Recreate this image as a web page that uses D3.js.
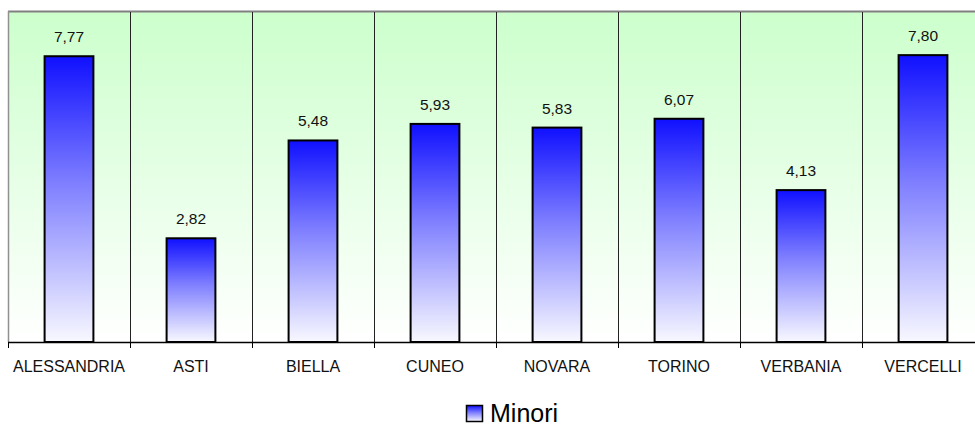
<!DOCTYPE html>
<html>
<head>
<meta charset="utf-8">
<script src="https://cdn.jsdelivr.net/npm/d3@7"></script>
<style>
  html, body { margin: 0; padding: 0; background: #fff; }
  svg { display: block; font-family: "Liberation Sans", Arial, sans-serif; }
</style>
</head>
<body>
<div id="chart"></div>
<script>
// Data
const provinces = ["ALESSANDRIA", "ASTI", "BIELLA", "CUNEO", "NOVARA", "TORINO", "VERBANIA", "VERCELLI"];
const minori = [7.77, 2.82, 5.48, 5.93, 5.83, 6.07, 4.13, 7.80];
const seriesName = "Minori";
const yDomain = [0, 9];

const W = 975, H = 428;
const plot = { left: 8, top: 11, right: 984, bottom: 342 };

const svg = d3.select("#chart").append("svg")
    .attr("width", W)
    .attr("height", H);

const defs = svg.append("defs");

// Plot background: light green fading to white
const bg = defs.append("linearGradient")
    .attr("id", "bgGrad")
    .attr("x1", 0).attr("y1", 0).attr("x2", 0).attr("y2", 1);
bg.append("stop").attr("offset", "0%").attr("stop-color", "#ccffcc");
bg.append("stop").attr("offset", "100%").attr("stop-color", "#ffffff");

// Bar fill: blue at top to near white at bottom
const barGrad = defs.append("linearGradient")
    .attr("id", "barGrad")
    .attr("x1", 0).attr("y1", 0).attr("x2", 0).attr("y2", 1);
barGrad.append("stop").attr("offset", "0%").attr("stop-color", "#1010ff");
barGrad.append("stop").attr("offset", "45%").attr("stop-color", "#8080ff");
barGrad.append("stop").attr("offset", "100%").attr("stop-color", "#f8f8ff");

// Scales
const x = d3.scaleBand()
    .domain(provinces)
    .range([plot.left, plot.right])
    .paddingInner(0)
    .paddingOuter(0);

const y = d3.scaleLinear()
    .domain(yDomain)
    .range([plot.bottom, plot.top]);

// Background
svg.append("rect")
    .attr("x", plot.left)
    .attr("y", plot.top)
    .attr("width", plot.right - plot.left)
    .attr("height", plot.bottom - plot.top)
    .attr("fill", "url(#bgGrad)");

// Top and left borders
svg.append("line")
    .attr("x1", plot.left).attr("x2", plot.right)
    .attr("y1", plot.top + 0.5).attr("y2", plot.top + 0.5)
    .attr("stroke", "#808080").attr("stroke-width", 2);
svg.append("line")
    .attr("x1", plot.left + 0.5).attr("x2", plot.left + 0.5)
    .attr("y1", plot.top).attr("y2", plot.bottom)
    .attr("stroke", "#909090").attr("stroke-width", 1.5);

// Category separators
const seps = provinces.slice(1).map(p => x(p));
svg.append("g")
    .selectAll("line")
    .data(seps)
    .join("line")
    .attr("x1", d => Math.round(d) + 0.5)
    .attr("x2", d => Math.round(d) + 0.5)
    .attr("y1", plot.top + 1)
    .attr("y2", plot.bottom)
    .attr("stroke", "#222")
    .attr("stroke-width", 1);

// Bars
const barW = x.bandwidth() * 0.4;
svg.append("g")
    .selectAll("rect")
    .data(minori)
    .join("rect")
    .attr("x", (d, i) => x(provinces[i]) + (x.bandwidth() - barW) / 2)
    .attr("y", d => y(d))
    .attr("width", barW)
    .attr("height", d => y(0) - y(d))
    .attr("fill", "url(#barGrad)")
    .attr("stroke", "#000")
    .attr("stroke-width", 2);

// Value labels
svg.append("g")
    .selectAll("text")
    .data(minori)
    .join("text")
    .attr("x", (d, i) => x(provinces[i]) + x.bandwidth() / 2)
    .attr("y", d => y(d) - 14)
    .attr("text-anchor", "middle")
    .attr("font-size", "15.5px")
    .attr("fill", "#111")
    .text(d => d.toFixed(2).replace(".", ","));

// X axis
const xAxis = d3.axisBottom(x).tickSize(0).tickPadding(19);
const gx = svg.append("g")
    .attr("transform", `translate(0,${plot.bottom})`)
    .call(xAxis);
gx.select(".domain")
    .attr("d", `M${plot.left},0.5H${plot.right}`)
    .attr("stroke", "#000")
    .attr("stroke-width", 1.5);
gx.selectAll(".tick text")
    .attr("font-size", "16px")
    .attr("font-family", "Liberation Sans, Arial, sans-serif")
    .attr("fill", "#111");

// Tick marks at category boundaries
gx.append("g")
    .selectAll("line")
    .data([plot.left].concat(seps))
    .join("line")
    .attr("x1", d => Math.round(d) + 0.5)
    .attr("x2", d => Math.round(d) + 0.5)
    .attr("y1", 0)
    .attr("y2", 6)
    .attr("stroke", "#000");

// Legend
const legend = svg.append("g")
    .attr("transform", "translate(466,405)");
legend.append("rect")
    .attr("x", 0.5).attr("y", 0.5)
    .attr("width", 16).attr("height", 16)
    .attr("fill", "url(#barGrad)")
    .attr("stroke", "#000")
    .attr("stroke-width", 1.5);
legend.append("text")
    .attr("x", 24)
    .attr("y", 17)
    .attr("font-size", "25px")
    .attr("fill", "#000")
    .text(seriesName);
</script>
</body>
</html>
